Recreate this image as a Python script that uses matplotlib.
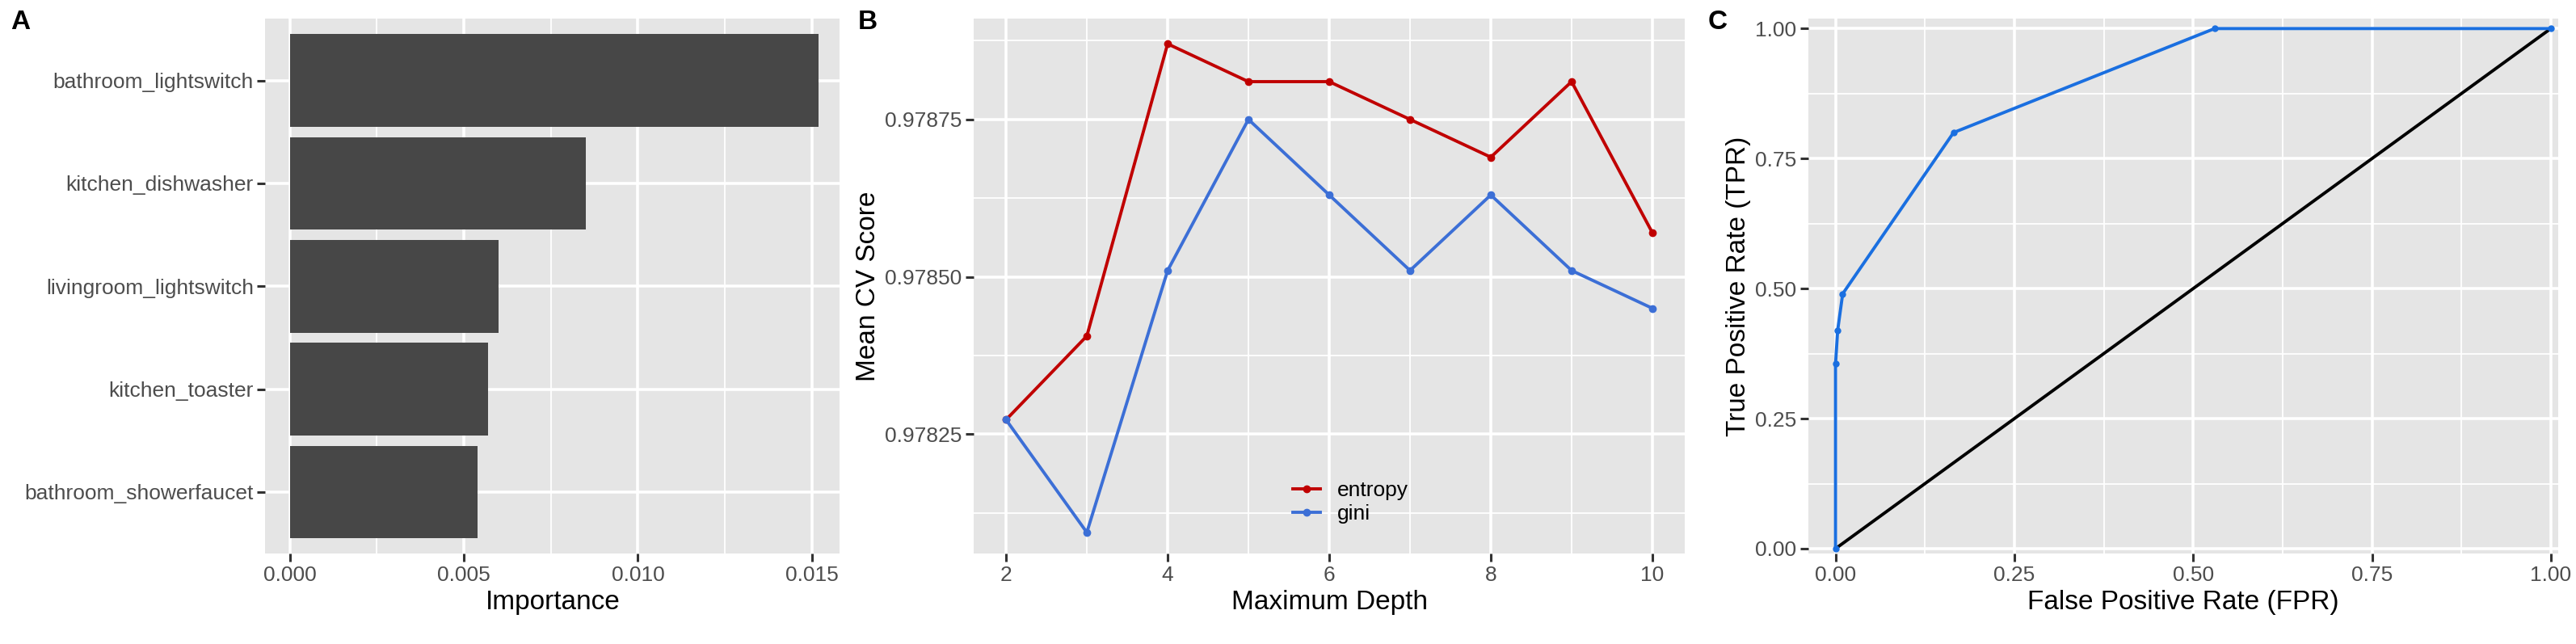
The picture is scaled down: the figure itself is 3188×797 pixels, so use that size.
import matplotlib.pyplot as plt

plt.rcParams['font.family'] = ['Liberation Sans', 'DejaVu Sans']

features = ["bathroom_lightswitch", "kitchen_dishwasher", "livingroom_lightswitch",
            "kitchen_toaster", "bathroom_showerfaucet"]
importance = [0.0152, 0.0085, 0.0060, 0.0057, 0.0054]

depth = [2, 3, 4, 5, 6, 7, 8, 9, 10]
entropy = [0.978273, 0.978406, 0.97887, 0.97881, 0.97881, 0.97875, 0.97869, 0.97881, 0.97857]
gini = [0.978273, 0.978094, 0.97851, 0.97875, 0.97863, 0.97851, 0.97863, 0.97851, 0.97845]

fpr = [0.0, 0.0, 0.003, 0.01, 0.165, 0.53, 1.0]
tpr = [0.0, 0.355, 0.42, 0.49, 0.80, 1.0, 1.0]

BG = '#e5e5e5'
TICK = 19
LAB = 24
fig = plt.figure(figsize=(31.88, 7.97), dpi=100)


def style(ax):
    ax.set_facecolor(BG)
    for s in ax.spines.values():
        s.set_visible(False)
    ax.grid(True, which='major', color='white', linewidth=2.6)
    ax.grid(True, which='minor', color='white', linewidth=1.3)
    ax.set_axisbelow(True)
    ax.tick_params(which='major', length=7, width=2.2, color='#333333', labelsize=TICK, labelcolor='#4d4d4d')
    ax.tick_params(which='minor', length=0)


BOT, H = 0.14, 0.831

# Panel A
axA = fig.add_axes([0.103, BOT, 0.223, H])
style(axA)
ypos = list(range(len(features)))[::-1]
axA.barh(ypos, importance, height=0.9, color='#474747')
axA.set_yticks(ypos)
axA.set_yticklabels(features)
axA.set_xlim(-0.0007, 0.0158)
axA.set_ylim(-0.6, 4.6)
axA.set_xticks([0, 0.005, 0.010, 0.015])
axA.set_xticklabels(["0.000", "0.005", "0.010", "0.015"])
axA.set_xticks([0.0025, 0.0075, 0.0125], minor=True)
axA.grid(False, axis='y', which='minor')
axA.set_xlabel("Importance", fontsize=LAB)
fig.text(0.004, 0.955, "A", fontsize=24, fontweight='bold')

# Panel B
axB = fig.add_axes([0.378, BOT, 0.276, H])
style(axB)
axB.plot(depth, entropy, color='#c00000', lw=2.8, marker='o', ms=6, label='entropy')
axB.plot(depth, gini, color='#3c6fd6', lw=2.8, marker='o', ms=6, label='gini')
axB.set_xlim(1.6, 10.4)
axB.set_ylim(0.97806, 0.97891)
axB.set_xticks([2, 4, 6, 8, 10])
axB.set_xticks([3, 5, 7, 9], minor=True)
axB.set_yticks([0.97825, 0.97850, 0.97875])
axB.set_yticklabels(["0.97825", "0.97850", "0.97875"])
axB.set_yticks([0.978125, 0.978375, 0.978625, 0.978875], minor=True)
axB.set_xlabel("Maximum Depth", fontsize=LAB)
axB.set_ylabel("Mean CV Score", fontsize=LAB)
axB.legend(loc='lower center', bbox_to_anchor=(0.53, 0.02), frameon=False, fontsize=19,
           handlelength=1.3, labelspacing=0.2)
fig.text(0.333, 0.955, "B", fontsize=24, fontweight='bold')

# Panel C
axC = fig.add_axes([0.702, BOT, 0.291, H])
style(axC)
axC.plot([0, 1], [0, 1], color='black', lw=2.8)
axC.plot(fpr, tpr, color='#1a6fe0', lw=2.8, marker='o', ms=5)
axC.set_xlim(-0.038, 1.01)
axC.set_ylim(-0.01, 1.019)
axC.set_xticks([0, 0.25, 0.5, 0.75, 1.0])
axC.set_xticklabels(["0.00", "0.25", "0.50", "0.75", "1.00"])
axC.set_yticks([0, 0.25, 0.5, 0.75, 1.0])
axC.set_yticklabels(["0.00", "0.25", "0.50", "0.75", "1.00"])
axC.set_xticks([0.125, 0.375, 0.625, 0.875], minor=True)
axC.set_yticks([0.125, 0.375, 0.625, 0.875], minor=True)
axC.set_xlabel("False Positive Rate (FPR)", fontsize=LAB)
axC.set_ylabel("True Positive Rate (TPR)", fontsize=LAB)
fig.text(0.663, 0.955, "C", fontsize=24, fontweight='bold')

fig.savefig("out.png", dpi=100)
